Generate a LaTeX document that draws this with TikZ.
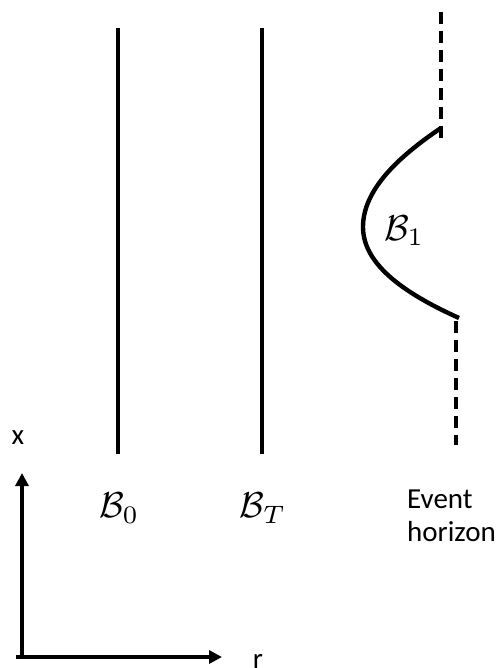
\documentclass[tikz,border=0pt]{standalone}
\usepackage{fontspec}
\setmainfont{Carlito}
\usetikzlibrary{arrows.meta}
\newcommand{\bigmath}[1]{\scalebox{3.6}{\fontsize{10}{12}\selectfont$#1$}}
\begin{document}
\begin{tikzpicture}[x=1pt,y=-1pt,
  wall/.style={line width=4.4pt},
  horizon/.style={line width=4.4pt,dash pattern=on 12pt off 7pt},
  axis/.style={line width=4.4pt,-{Triangle[length=13pt,width=13pt]}},
  lbl/.style={font=\fontsize{29}{33}\selectfont,inner sep=0pt},
  mlbl/.style={inner sep=0pt}]
\useasboundingbox (0,0) rectangle (499,668);
% boundaries
\coordinate (b0t) at (118,28); \coordinate (b0b) at (118,454);
\coordinate (btt) at (262,28); \coordinate (btb) at (262,454);
\draw[wall] (b0t) -- (b0b);
\draw[wall] (btt) -- (btb);
% event horizon
\coordinate (h1t) at (441,12); \coordinate (h1b) at (441,142);
\coordinate (h2t) at (456,321); \coordinate (h2b) at (456,445);
\draw[horizon] (h1t) -- (h1b);
\draw[horizon] (h2t) -- (h2b);
% B1 curve
\coordinate (c1) at (441,128); \coordinate (c2) at (363,227); \coordinate (c3) at (459,318);
\draw[wall] (c1) .. controls (398,157) and (363,190) .. (c2)
               .. controls (363,266) and (408,295) .. (c3);
% labels
\node[mlbl] (lb0) at (119,508) {\bigmath{\mathcal{B}_0}};
\node[mlbl] (lbt) at (263,508) {\bigmath{\mathcal{B}_T}};
\node[mlbl] (lb1) at (404,231) {\bigmath{\mathcal{B}_1}};
\node[lbl,align=left,anchor=north west] (leh) at (407,490) {Event\\horizon};
% axes
\coordinate (o) at (22,657);
\coordinate (ox) at (22,473);
\coordinate (or) at (16,657);
\coordinate (rx) at (222,657);
\draw[axis] (22,659) -- (ox);
\draw[axis] (or) -- (rx);
\node[lbl,anchor=base] (lx) at (18,444) {x};
\node[lbl,anchor=base] (lr) at (258,668) {r};
\end{tikzpicture}
\end{document}
